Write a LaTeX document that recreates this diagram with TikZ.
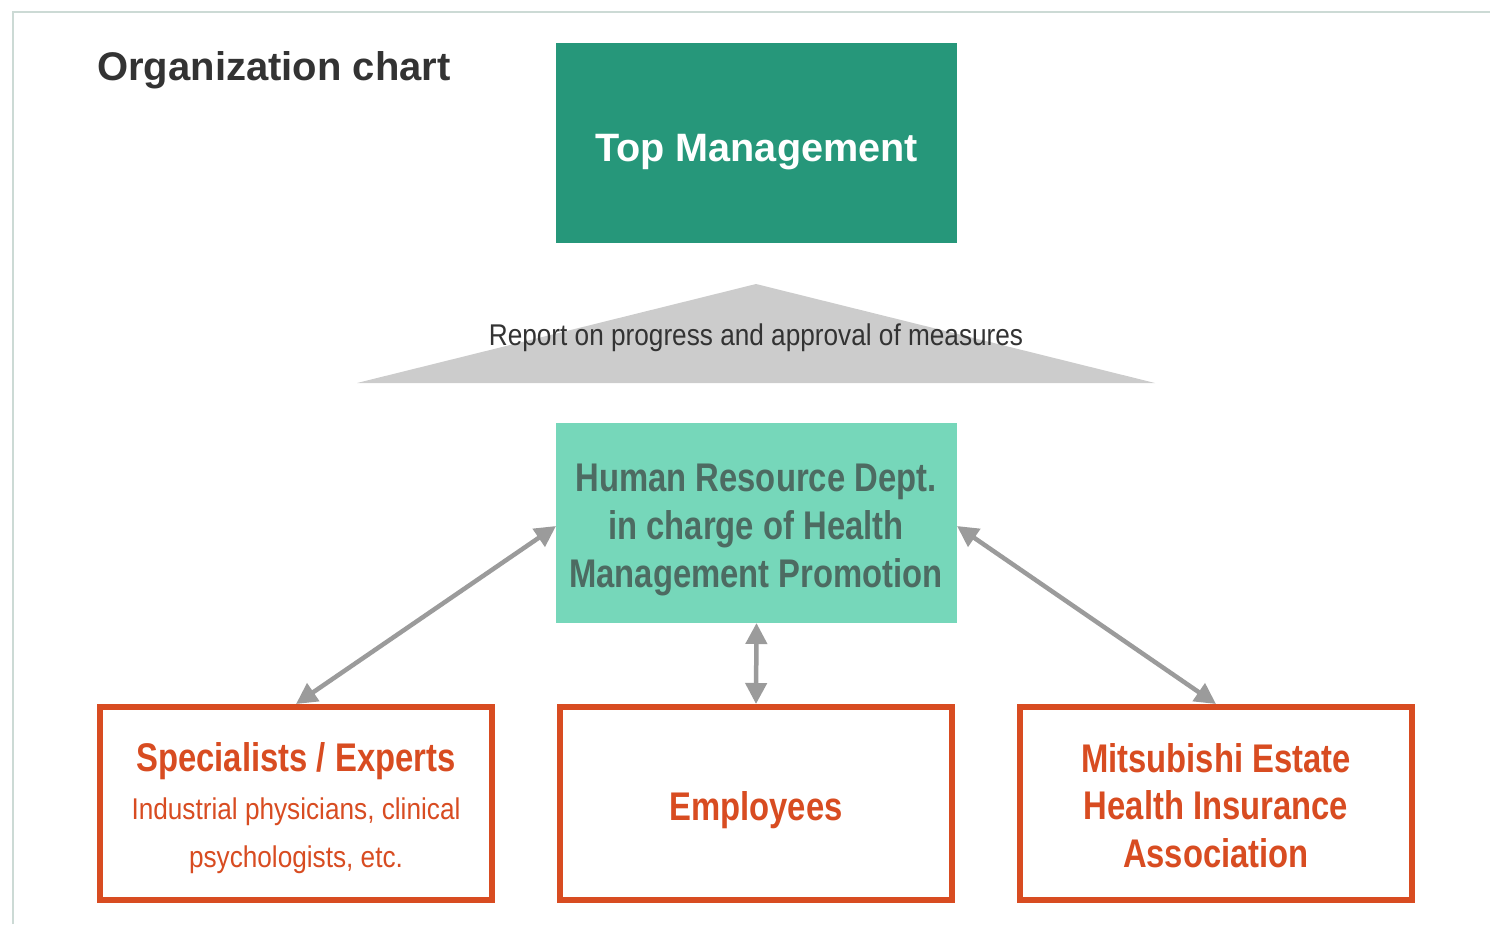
\documentclass[tikz,border=0pt]{standalone}
\usepackage{fontspec}
\setmainfont{Liberation Sans}
\newfontfamily\nbold[FakeStretch=0.82]{Liberation Sans}
\newfontfamily\nreg[FakeStretch=0.873]{Liberation Sans}
\usetikzlibrary{arrows.meta}
\definecolor{topgreen}{HTML}{26977A}
\definecolor{hrgreen}{HTML}{76D7BA}
\definecolor{hrtext}{HTML}{4D6B62}
\definecolor{orng}{HTML}{D84C21}
\definecolor{arrowgray}{HTML}{9B9B9B}
\definecolor{trigray}{HTML}{CCCCCC}
\definecolor{framecol}{HTML}{CCDAD5}
\definecolor{darktext}{HTML}{333333}
\begin{document}
\begin{tikzpicture}[x=1pt,y=-1pt,
  fillbox/.style={rectangle, inner sep=0pt, outer sep=0pt, minimum width=401pt, minimum height=200pt},
  obox/.style={rectangle, draw=orng, line width=6pt, fill=white, inner sep=0pt, minimum width=392pt, minimum height=193pt},
  txt/.style={inner sep=0pt, align=center},
  boldtxt/.style={txt, font=\nbold\bfseries\fontsize{40}{48}\selectfont},
  regtxt/.style={txt, font=\nreg\fontsize{30}{48}\selectfont},
  link/.style={draw=arrowgray, line width=4.5pt, {Triangle[length=21pt,width=21pt]}-{Triangle[length=21pt,width=21pt]}}
]
\useasboundingbox (0,0) rectangle (1490,924);
% frame
\draw[framecol, line width=2pt] (13,924) -- (13,12) -- (1490,12);
% title
\node[txt, anchor=base west, text=darktext, font=\bfseries\fontsize{40}{48}\selectfont] (title) at (97,80) {Organization chart};
% top management
\node[fillbox, fill=topgreen] (top) at (756.5,143) {};
\node[txt, anchor=base, text=white, font=\bfseries\fontsize{39.6}{47}\selectfont] (toptext) at (756.5,161) {Top Management};
% report triangle
\fill[trigray] (756,284) -- (1155,383) -- (357,383) -- cycle;
\node[regtxt, anchor=base, text=darktext] (report) at (756,345) {Report on progress and approval of measures};
% HR
\node[fillbox, fill=hrgreen] (hr) at (756.5,523) {};
\node[boldtxt, text=hrtext] (hrtext) at (756,529.5) {Human Resource Dept.\\in charge of Health\\Management Promotion};
% bottom boxes
\node[obox] (spec) at (296,803.5) {};
\node[regtxt, text=orng] (spectext) at (296,808.5) {{\nbold\bfseries\fontsize{40}{48}\selectfont Specialists / Experts}\\Industrial physicians, clinical\\psychologists, etc.};
\node[obox] (emp) at (756,803.5) {};
\node[txt, anchor=base, text=orng, font=\nbold\bfseries\fontsize{40}{48}\selectfont] (emptext) at (756,820) {Employees};
\node[obox] (mit) at (1216,803.5) {};
\node[txt, text=orng, font=\nbold\bfseries\fontsize{40}{47.5}\selectfont] (mittext) at (1216,805.5) {Mitsubishi Estate\\Health Insurance\\Association};
% connectors
\draw[link] ([yshift=-3pt]hr.west) -- (spec.north);
\draw[link] (hr.south) -- (emp.north);
\draw[link] ([yshift=-3pt]hr.east) -- (mit.north);
\end{tikzpicture}
\end{document}
